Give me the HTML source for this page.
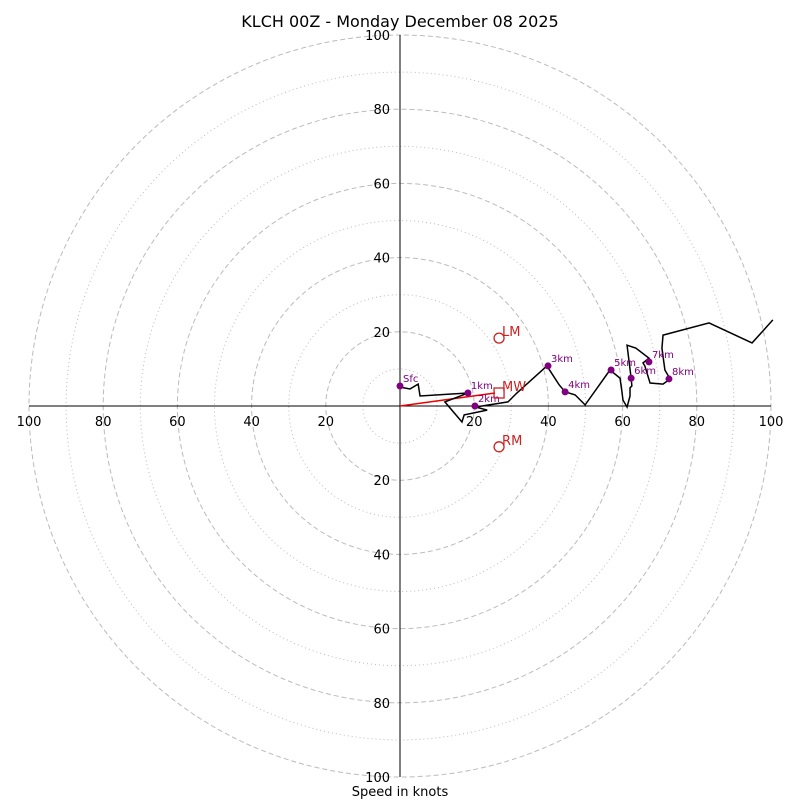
<!DOCTYPE html>
<html><head><meta charset="utf-8"><style>
body{margin:0;background:#fff}
svg{display:block;font-family:"DejaVu Sans","Liberation Sans",sans-serif}
</style></head><body>
<svg id="c" width="800" height="800">
<text x="400" y="27" text-anchor="middle" font-size="16">KLCH 00Z - Monday December 08 2025</text>
<text x="400" y="796" text-anchor="middle" font-size="13">Speed in knots</text>
</svg>
<script>
const traceU=[0,2.7,4.9,5.4,18.3,12.1,16.7,17.3,23.5,20.5,20.2,29.1,31.5,39.6,42.9,44.5,47.2,49.9,56.6,59.3,59.8,60.1,61.2,62,62,62.5,62.3,61.2,63.6,67.1,65.5,66,67.4,70.9,72.8,71.4,70.6,70.9,83.3,94.9,100.5];
const traceV=[5.1,4.6,5.9,2.7,3.5,1.1,-4.3,-2.4,-1.1,-0.3,-0.3,1.1,3.5,10.8,5.7,3.8,3,0.3,9.7,7.5,4,1.6,-0.3,2.7,4.9,5.4,7.5,16.4,15.6,12.9,11.6,10.8,6.2,5.9,7.3,9.7,15.6,19.1,22.4,17,23.2];
const markerU=[0,18.3,20.2,39.9,44.5,56.9,62.3,67.1,72.5];
const markerV=[5.4,3.5,0,10.8,3.8,9.7,7.5,11.9,7.3];
const markerLabels=["Sfc","1km","2km","3km","4km","5km","6km","7km","8km"];
const motionU=[26.7,26.7,26.7];
const motionV=[18.3,3.5,-11];
const motionLabels=["LM","MW","RM"];
const ticks=[20,40,60,80,100];
const rings=[10,20,30,40,50,60,70,80,90,100];
const cx=400,cy=406,k=3.71;
const X=u=>cx+u*k, Y=v=>cy-v*k;
const s=document.getElementById('c'),NS='http://www.w3.org/2000/svg';
function mk(t,a,p){const e=document.createElementNS(NS,t);for(const q in a)e.setAttribute(q,a[q]);(p||s).appendChild(e);return e;}
rings.forEach(r=>{
 const e=mk('circle',{cx:cx,cy:cy,r:r*k,fill:'none',stroke:'#bbb','stroke-width':1,'stroke-dasharray':r%20?'1,3':'5,3'});
 
 
});
let a=mk('line',{x1:X(-100),y1:cy,x2:X(100),y2:cy,stroke:'#000','stroke-width':1});


a=mk('line',{x1:cx,y1:Y(100),x2:cx,y2:Y(-100),stroke:'#000','stroke-width':1});


ticks.forEach(t=>{[-1,1].forEach(sg=>{
 let e=mk('text',{x:X(sg*t),y:cy+20,'text-anchor':'middle','font-size':13});e.textContent=t;
 
 
 e=mk('text',{x:cx-10,y:Y(sg*t)+5,'text-anchor':'end','font-size':13});e.textContent=t;
 
 
});});
let line=mk('line',{x1:cx,y1:cy,x2:X(motionU[1])-4,y2:Y(motionV[1]),stroke:'#e00','stroke-width':1.5});


let pts=traceU.map((u,i)=>X(u)+','+Y(traceV[i])).join(' ');
let tr=mk('polyline',{points:pts,fill:'none',stroke:'#000','stroke-width':1.5});


markerU.forEach((u,i)=>{
 const c=mk('circle',{cx:X(u),cy:Y(markerV[i]),r:3.5,fill:'#800080'});
 
 
 const t=mk('text',{x:X(u)+3,y:Y(markerV[i])-4,'font-size':10,fill:'#800080'});t.textContent=markerLabels[i];
 
 
});
motionU.forEach((u,i)=>{
 let e;
 if(i==1)e=mk('rect',{x:X(u)-5,y:Y(motionV[i])-5,width:10,height:10,fill:'none',stroke:'#c22','stroke-width':1.3});
 else e=mk('circle',{cx:X(u),cy:Y(motionV[i]),r:5,fill:'none',stroke:'#c22','stroke-width':1.3});
 
 
 const t=mk('text',{x:X(u)+3,y:Y(motionV[i])-2,'font-size':13,fill:'#c22'});t.textContent=motionLabels[i];
 
 
});
</script>
</body></html>
